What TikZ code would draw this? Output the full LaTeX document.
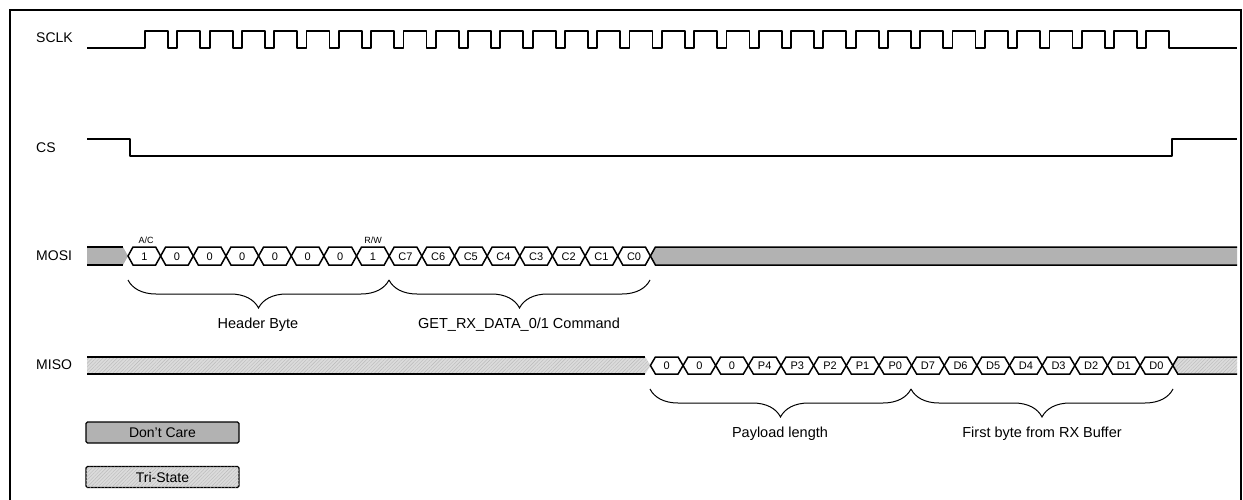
\documentclass[tikz,border=0pt]{standalone}
\usepackage{fontspec}
\setmainfont{Liberation Sans}
\usetikzlibrary{decorations.pathreplacing,patterns.meta}
\definecolor{dontcare}{gray}{0.70}
\definecolor{tristate}{gray}{0.86}

\begin{document}
\begin{tikzpicture}[x=1pt,y=-1pt,
    sig/.style={line width=1.8pt,line join=round},
    seg/.style={line width=1.5pt,line join=miter,fill=white},
    rail/.style={line width=1.5pt},
    sname/.style={anchor=west,inner sep=0pt,font=\fontsize{14}{16}\selectfont},
    bitlbl/.style={inner sep=0pt,font=\fontsize{11}{13}\selectfont},
    bitflag/.style={inner sep=0pt,font=\fontsize{9}{10}\selectfont},
    blbl/.style={inner sep=0pt,font=\fontsize{14.5}{16}\selectfont},
    lgd/.style={draw,line width=1.4pt,rounded corners=1.5pt,minimum width=153pt,minimum height=21pt,inner sep=0pt,font=\fontsize{14}{16}\selectfont},
    brc/.style={decorate,decoration={brace,mirror,amplitude=28pt},line width=1pt},
    dcare/.style={fill=dontcare},
    tstate/.style={fill=tristate,postaction={pattern={Lines[angle=45,distance=2.5pt,line width=0.4pt]},pattern color=gray!55}}]
  \useasboundingbox (0,0) rectangle (1243,500);
  % frame
  \draw[line width=2pt] (10,500) -- (10,10) -- (1241,10) -- (1241,500);

  % signal names
  \node[sname] (sclk) at (36,38) {SCLK};
  \node[sname] (cs) at (36,148) {CS};
  \node[sname] (mosi) at (36,256) {MOSI};
  \node[sname] (miso) at (36,365) {MISO};

  % clock
  \draw[sig] (87,48) -- (145,48)
    \foreach \k in {0,...,31} { -- ({145+32.3*\k},48) -- ({145+32.3*\k},31) -- ({168+32.3*\k},31) -- ({168+32.3*\k},48) }
    -- (1237,48);

  % chip select
  \draw[sig] (87,139) -- (130,139) -- (130,156) -- (1172,156) -- (1172,139) -- (1237,139);

  % MOSI
  \fill[dcare] (87,247) -- (123,247) -- (128,256) -- (123,265) -- (87,265) -- cycle;
  \draw[rail] (87,247) -- (123,247) (87,265) -- (123,265);
  \foreach \b [count=\i from 0] in {1,0,0,0,0,0,0,1,C7,C6,C5,C4,C3,C2,C1,C0} {
    \pgfmathsetmacro\xa{128+32.65*\i}
    \pgfmathsetmacro\xb{\xa+32.65}
    \draw[seg] (\xa,256) -- ({\xa+5},247) -- ({\xb-5},247) -- (\xb,256) -- ({\xb-5},265) -- ({\xa+5},265) -- cycle;
    \node[bitlbl] (mo\i) at ({(\xa+\xb)/2},256.5) {\b};
  }
  \fill[dcare] (650.4,256) -- (655.4,247) -- (1237,247) -- (1237,265) -- (655.4,265) -- cycle;
  \draw[rail] (650.4,256) -- (655.4,247) -- (1237,247) (650.4,256) -- (655.4,265) -- (1237,265);
  \node[bitflag] (ac) at (146,240.5) {A/C};
  \node[bitflag] (rw) at (373,240.5) {R/W};

  % MISO
  \fill[tstate] (87,357) -- (645.4,357) -- (650.4,365.5) -- (645.4,374) -- (87,374) -- cycle;
  \draw[rail] (87,357) -- (645.4,357) (87,374) -- (645.4,374);
  \foreach \b [count=\i from 0] in {0,0,0,P4,P3,P2,P1,P0,D7,D6,D5,D4,D3,D2,D1,D0} {
    \pgfmathsetmacro\xa{650.4+32.65*\i}
    \pgfmathsetmacro\xb{\xa+32.65}
    \draw[seg] (\xa,365.5) -- ({\xa+5},357) -- ({\xb-5},357) -- (\xb,365.5) -- ({\xb-5},374) -- ({\xa+5},374) -- cycle;
    \node[bitlbl] (mi\i) at ({(\xa+\xb)/2},366) {\b};
  }
  \fill[tstate] (1172.8,365.5) -- (1177.8,357) -- (1237,357) -- (1237,374) -- (1177.8,374) -- cycle;
  \draw[rail] (1172.8,365.5) -- (1177.8,357) -- (1237,357) (1172.8,365.5) -- (1177.8,374) -- (1237,374);

  % braces
  \coordinate (hb0) at (128,280);
  \coordinate (hb1) at (389,280);
  \coordinate (hb2) at (650,280);
  \coordinate (pl0) at (650,389);
  \coordinate (pl1) at (911,389);
  \coordinate (pl2) at (1173,389);
  \draw[brc] (hb0) -- (hb1);
  \draw[brc] (hb1) -- (hb2);
  \draw[brc] (pl0) -- (pl1);
  \draw[brc] (pl1) -- (pl2);
  \node[blbl] (hdr) at (258,325) {Header Byte};
  \node[blbl] (cmd) at (519,325) {GET\_RX\_DATA\_0/1 Command};
  \node[blbl] (len) at (780,434) {Payload length};
  \node[blbl] (fst) at (1042,434) {First byte from RX Buffer};

  % legend
  \node[lgd,dcare] (dc) at (162.5,432.5) {Don’t Care};
  \node[lgd,tstate] (ts) at (162.5,477) {Tri-State};
\end{tikzpicture}
\end{document}
